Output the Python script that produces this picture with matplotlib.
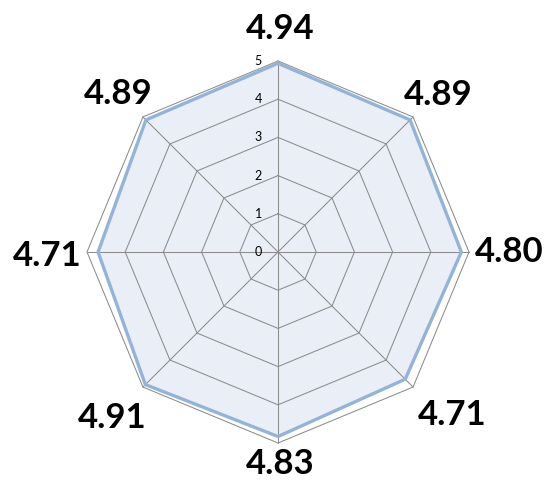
import numpy as np
import matplotlib.pyplot as plt

# Values read clockwise starting from the top axis
values = [4.94, 4.89, 4.80, 4.71, 4.83, 4.91, 4.71, 4.89]
value_labels = ['4.94', '4.89', '4.80', '4.71', '4.83', '4.91', '4.71', '4.89']
ticks = [0, 1, 2, 3, 4, 5]

# Label positions (data units) for each axis, same order as values
label_pos = [(0.05, 5.83), (4.19, 4.11), (6.05, 0.0), (4.55, -4.27),
             (0.05, -5.55), (-4.35, -4.35), (-6.05, -0.1), (-4.19, 4.14)]

n = len(values)
angles = np.arange(n) * 2 * np.pi / n


def to_xy(r):
    r = np.asarray(r, dtype=float)
    return r * np.sin(angles), r * np.cos(angles)


# Canvas: 559x487 px, chart centre at pixel (278, 252), 38.2 px per unit
scale = 38.2
fig = plt.figure(figsize=(5.59, 4.87), dpi=100)
ax = fig.add_axes([0, 0, 1, 1])
ax.set_xlim(-278 / scale, (559 - 278) / scale)
ax.set_ylim(-(487 - 252) / scale, 252 / scale)
ax.axis('off')

grid_color = '#8c8c8c'

# Filled data area below the grid
x, y = to_xy(values)
ax.fill(x, y, color='#e9eef7', zorder=1)

# Octagonal grid rings
for t in ticks[1:]:
    gx, gy = to_xy([t] * n)
    ax.plot(np.append(gx, gx[0]), np.append(gy, gy[0]),
            color=grid_color, lw=0.75, zorder=2)

# Spokes
ox, oy = to_xy([ticks[-1]] * n)
for sx, sy in zip(ox, oy):
    ax.plot([0, sx], [0, sy], color=grid_color, lw=0.75, zorder=2)

# Data outline
ax.plot(np.append(x, x[0]), np.append(y, y[0]), color='#95b3d7',
        lw=2.4, solid_joinstyle='miter', zorder=3)

# Radial tick labels along the top axis
for t in ticks:
    ax.text(-0.52, t, str(t), ha='center', va='center', fontsize=9,
            family='Lato', color='black', zorder=4)

# Value labels around the chart
for (lx, ly), lab in zip(label_pos, value_labels):
    ax.text(lx, ly, lab, ha='center', va='center', fontsize=25,
            family='Lato', fontweight='bold', color='black')

fig.savefig('out.png', dpi=100)
